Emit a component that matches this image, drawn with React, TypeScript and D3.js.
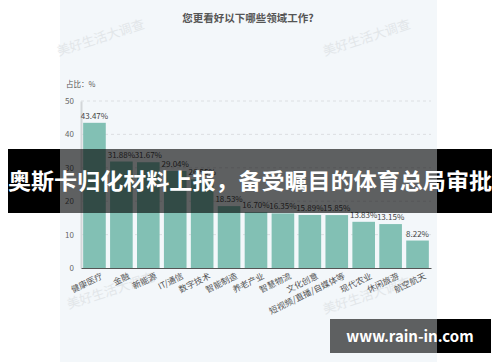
import React, { useEffect, useRef } from 'react';
import * as d3 from 'd3';

const categories = ['健康医疗', '金融', '新能源', 'IT/通信', '数字技术', '智能制造', '养老产业', '智慧物流', '文化创意', '短视频/直播/自媒体等', '现代农业', '休闲旅游', '航空航天'];
const values = [43.47, 31.88, 31.67, 29.04, 26.55, 18.53, 16.7, 16.35, 15.89, 15.85, 13.83, 13.15, 8.22];
const yTicks = [0, 10, 20, 30, 40, 50];
const watermarks = [
  [102, 42],
  [368, 42],
  [112, 295],
  [368, 300],
];

const FONT = '"Noto Sans CJK SC", "Noto Sans", sans-serif';

const App = () => {
  const ref = useRef<SVGSVGElement | null>(null);

  useEffect(() => {
    if (!ref.current) return;
    const svg = d3.select(ref.current);
    svg.selectAll('*').remove();

    const W = 500;
    const H = 362;
    const panelX0 = 60;
    const panelX1 = 437;

    svg.append('rect').attr('width', W).attr('height', H).attr('fill', '#ffffff');
    svg.append('rect')
      .attr('x', panelX0).attr('y', 0)
      .attr('width', panelX1 - panelX0).attr('height', H)
      .attr('fill', '#f3f7fa');

    // watermark text
    watermarks.forEach(([x, y]) => {
      svg.append('text')
        .attr('transform', `translate(${x},${y}) rotate(-18)`)
        .attr('text-anchor', 'middle')
        .attr('fill', '#e2e6e9')
        .style('font-family', FONT)
        .style('font-size', '13px')
        .text('美好生活大调查');
    });

    svg.append('text')
      .attr('x', 248).attr('y', 22)
      .attr('text-anchor', 'middle')
      .attr('fill', '#555')
      .style('font-family', FONT)
      .style('font-size', '10.5px')
      .style('font-weight', 'bold')
      .text('您更看好以下哪些领域工作?');

    svg.append('text')
      .attr('x', 66).attr('y', 87)
      .attr('fill', '#555')
      .style('font-family', FONT)
      .style('font-size', '7.5px')
      .text('占比：%');

    const x = d3.scaleBand().domain(categories).range([81, 431]).paddingInner(0.16).paddingOuter(0.08);
    const y = d3.scaleLinear().domain([0, 50]).range([268, 101]);

    // grid
    svg.append('g')
      .selectAll('line')
      .data(yTicks.filter((d) => d > 0))
      .join('line')
      .attr('x1', 81).attr('x2', 431)
      .attr('y1', (d) => y(d)).attr('y2', (d) => y(d))
      .attr('stroke', '#d6d9dc')
      .attr('stroke-dasharray', '3,3')
      .attr('stroke-width', 0.8);

    const yAxis = d3.axisLeft(y).tickValues(yTicks).tickSize(0).tickPadding(7);
    const gy = svg.append('g').attr('transform', 'translate(81,0)').call(yAxis);
    gy.select('.domain').attr('stroke', '#d3d6d9').attr('stroke-width', 2);
    gy.selectAll('text')
      .attr('fill', '#666')
      .style('font-family', FONT)
      .style('font-size', '8px');

    svg.append('g')
      .selectAll('rect')
      .data(values)
      .join('rect')
      .attr('x', (d, i) => x(categories[i]) as number)
      .attr('y', (d) => y(d))
      .attr('width', x.bandwidth())
      .attr('height', (d) => y(0) - y(d))
      .attr('fill', '#82c0b4');

    svg.append('g')
      .selectAll('text')
      .data(values)
      .join('text')
      .attr('x', (d, i) => (x(categories[i]) as number) + x.bandwidth() / 2)
      .attr('y', (d) => y(d) - 4)
      .attr('text-anchor', 'middle')
      .attr('fill', '#444')
      .style('font-family', FONT)
      .style('font-size', '8px')
      .text((d) => d.toFixed(2) + '%');

    const xAxis = d3.axisBottom(x).tickSize(0).tickPadding(0);
    const gx = svg.append('g').attr('transform', 'translate(0,268)').call(xAxis);
    gx.select('.domain').attr('stroke', '#555').attr('stroke-width', 1.2);
    gx.selectAll('text')
      .attr('fill', '#555')
      .attr('dy', null)
      .attr('y', 0)
      .attr('text-anchor', 'end')
      .attr('transform', 'translate(9,10) rotate(-26)')
      .style('font-family', FONT)
      .style('font-size', '8.5px');

    // banner overlay
    const bannerY = 149;
    const bannerH = 64;
    svg.append('rect').attr('x', 8).attr('y', bannerY).attr('width', panelX0 - 8).attr('height', bannerH).attr('fill', '#000');
    svg.append('rect').attr('x', panelX1).attr('y', bannerY).attr('width', 492 - panelX1).attr('height', bannerH).attr('fill', '#000');
    svg.append('rect').attr('x', panelX0).attr('y', bannerY).attr('width', panelX1 - panelX0).attr('height', bannerH).attr('fill', '#000').attr('opacity', 0.61);
    svg.append('text')
      .attr('x', 250).attr('y', 189)
      .attr('text-anchor', 'middle')
      .attr('fill', '#fff')
      .attr('textLength', 484)
      .attr('lengthAdjust', 'spacingAndGlyphs')
      .style('font-family', FONT)
      .style('font-size', '22px')
      .style('font-weight', 'bold')
      .text('奥斯卡归化材料上报，备受瞩目的体育总局审批');

    // site badge
    svg.append('rect').attr('x', 330).attr('y', 319).attr('width', panelX1 - 330).attr('height', 34).attr('fill', '#000').attr('opacity', 0.61);
    svg.append('rect').attr('x', panelX1).attr('y', 319).attr('width', 491 - panelX1).attr('height', 34).attr('fill', '#000');
    svg.append('text')
      .attr('x', 410).attr('y', 342)
      .attr('text-anchor', 'middle')
      .attr('fill', '#fff')
      .style('font-family', FONT)
      .style('font-size', '15px')
      .style('font-weight', 'bold')
      .text('www.rain-in.com');
  }, []);

  return <svg ref={ref} width={500} height={362} style={{ position: 'absolute', left: 0, top: 0 }} />;
};

export default App;
